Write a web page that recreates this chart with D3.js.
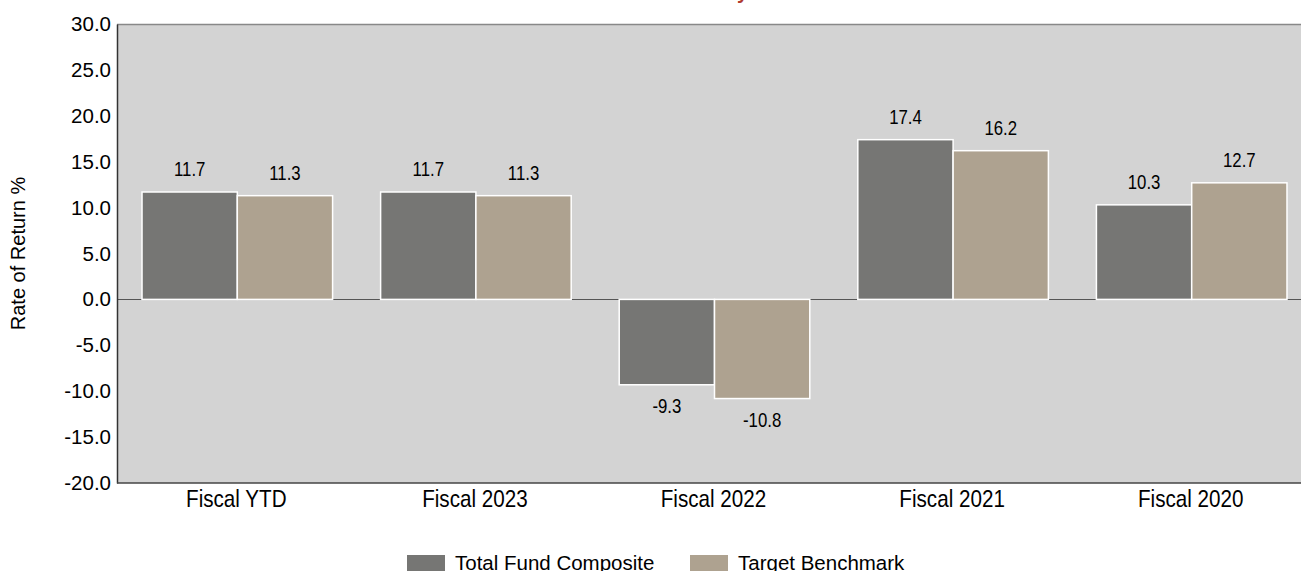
<!DOCTYPE html>
<html>
<head>
<meta charset="utf-8">
<script src="https://cdn.jsdelivr.net/npm/d3@7"></script>
<style>
  body { margin: 0; background: #fff; }
  text { font-family: "Liberation Sans", Arial, sans-serif; fill: #000; }
</style>
</head>
<body>
<div class="container"></div>
<script>
"use strict";

var width = 1301;
var height = 571;

// chart data
var categories = ["Fiscal YTD", "Fiscal 2023", "Fiscal 2022", "Fiscal 2021", "Fiscal 2020"];
var seriesNames = ["Total Fund Composite", "Target Benchmark"];
var fundValues = [11.7, 11.7, -9.3, 17.4, 10.3];
var benchValues = [11.3, 11.3, -10.8, 16.2, 12.7];
var yTicks = [30, 25, 20, 15, 10, 5, 0, -5, -10, -15, -20];
var colors = ["#767674", "#aea290"];

var margin = {top: 24, left: 117, bottom: 483, right: 1310};

var svg = d3.select(".container").append("svg")
    .attr("width", width)
    .attr("height", height);

// Title is mostly cut off above the frame, only a descender shows
svg.append("text")
    .attr("x", 748)
    .attr("y", -1)
    .attr("text-anchor", "end")
    .style("font-size", "20px")
    .style("font-weight", "bold")
    .style("fill", "#b03a2e")
    .text("Performance Summary");

var y = d3.scaleLinear()
    .domain([-20, 30])
    .range([margin.bottom, margin.top]);

var x0 = d3.scaleBand()
    .domain(categories)
    .range([margin.left, margin.right])
    .padding(0);

var x1 = d3.scaleBand()
    .domain(seriesNames)
    .range([0, x0.bandwidth()])
    .paddingInner(0)
    .paddingOuter(0.252);

// plot background
svg.append("rect")
    .attr("x", margin.left)
    .attr("y", margin.top)
    .attr("width", margin.right - margin.left)
    .attr("height", margin.bottom - margin.top)
    .attr("fill", "#d3d3d3");

// top border
svg.append("line")
    .attr("x1", margin.left).attr("x2", margin.right)
    .attr("y1", margin.top + 0.5).attr("y2", margin.top + 0.5)
    .attr("stroke", "#888").attr("stroke-width", 1.5);

// zero line
svg.append("line")
    .attr("x1", margin.left).attr("x2", margin.right)
    .attr("y1", Math.round(y(0)) + 0.5).attr("y2", Math.round(y(0)) + 0.5)
    .attr("stroke", "#555").attr("stroke-width", 1);

var rows = categories.map(function(c, i) {
    return {cat: c, vals: [
        {name: seriesNames[0], v: fundValues[i], color: colors[0]},
        {name: seriesNames[1], v: benchValues[i], color: colors[1]}
    ]};
});

var groups = svg.selectAll(".group")
    .data(rows)
    .enter().append("g")
    .attr("class", "group")
    .attr("transform", function(d) { return "translate(" + x0(d.cat) + ",0)"; });

groups.selectAll("rect")
    .data(function(d) { return d.vals; })
    .enter().append("rect")
    .attr("x", function(d) { return x1(d.name) + 1; })
    .attr("y", function(d) { return y(Math.max(0, d.v)); })
    .attr("width", x1.bandwidth())
    .attr("height", function(d) { return Math.abs(y(d.v) - y(0)); })
    .attr("fill", function(d) { return d.color; })
    .attr("stroke", "#fff")
    .attr("stroke-width", 1.5);

// value labels (slightly condensed like the original)
groups.selectAll(".val")
    .data(function(d) { return d.vals; })
    .enter().append("text")
    .attr("class", "val")
    .attr("text-anchor", "middle")
    .attr("transform", function(d) {
        var cx = x1(d.name) + 1 + x1.bandwidth() / 2;
        var ty = d.v >= 0 ? y(d.v) - 16 : y(d.v) + 28;
        return "translate(" + cx + "," + ty + ") scale(0.84,1)";
    })
    .style("font-size", "20px")
    .text(function(d) { return d.v.toFixed(1); });

// y axis
var yAxis = svg.append("g")
    .attr("transform", "translate(" + margin.left + ",0)")
    .call(d3.axisLeft(y).tickValues(yTicks).tickSize(0).tickPadding(6)
        .tickFormat(function(d) { return d.toFixed(1); }));
yAxis.select(".domain").attr("stroke", "#333").attr("stroke-width", 1.5);
yAxis.selectAll("text")
    .style("font-size", "20.5px")
    .style("font-family", "'Liberation Sans', Arial, sans-serif")
    .attr("fill", "#000");

// bottom axis line and category labels
svg.append("line")
    .attr("x1", margin.left).attr("x2", margin.right)
    .attr("y1", margin.bottom).attr("y2", margin.bottom)
    .attr("stroke", "#444").attr("stroke-width", 1.5);

svg.selectAll(".cat")
    .data(categories)
    .enter().append("text")
    .attr("class", "cat")
    .attr("text-anchor", "middle")
    .attr("transform", function(d) {
        return "translate(" + (x0(d) + x0.bandwidth() / 2) + ",507) scale(0.86,1)";
    })
    .style("font-size", "24px")
    .text(function(d) { return d; });

// y axis title
svg.append("text")
    .attr("transform", "translate(25," + ((margin.top + margin.bottom) / 2) + ") rotate(-90)")
    .attr("text-anchor", "middle")
    .style("font-size", "20px")
    .text("Rate of Return %");

// legend
var legendX = [407, 690];
var legend = svg.selectAll(".legend")
    .data(seriesNames)
    .enter().append("g")
    .attr("class", "legend")
    .attr("transform", function(d, i) { return "translate(" + legendX[i] + ",555)"; });

legend.append("rect")
    .attr("width", 38)
    .attr("height", 18)
    .attr("fill", function(d, i) { return colors[i]; });

legend.append("text")
    .attr("x", 48)
    .attr("y", 15)
    .style("font-size", "20.5px")
    .text(function(d) { return d; });
</script>
</body>
</html>
